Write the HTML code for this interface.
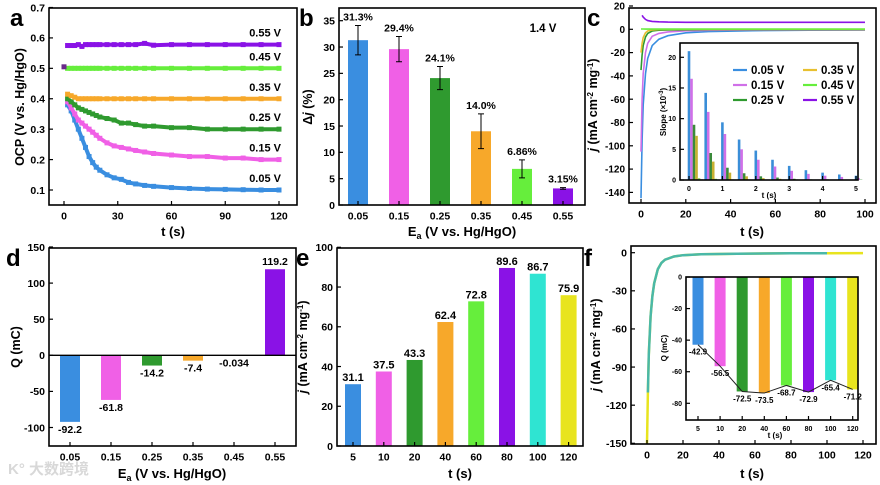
<!DOCTYPE html>
<html><head><meta charset="utf-8"><style>
body{margin:0;background:#fff;}
svg{display:block;font-family:"Liberation Sans","Noto Sans CJK SC",sans-serif;font-weight:bold;}
</style></head><body>
<svg id="fig" width="880" height="485" viewBox="0 0 880 485" xmlns="http://www.w3.org/2000/svg"></svg>
<script>
// ---------- DATA ----------
const aTimes=[2,4,6,8,10,12,14,16,18,20,24,28,32,36,40,45,50,60,70,80,90,100,110,120];
const aSeries005=[.38,.36,.33,.30,.27,.24,.21,.19,.175,.165,.15,.14,.135,.125,.12,.115,.112,.108,.105,.103,.102,.101,.10,.10];
const aSeries015=[.39,.37,.35,.33,.32,.31,.30,.29,.28,.27,.255,.245,.24,.235,.23,.225,.22,.215,.21,.21,.205,.205,.20,.20];
const aSeries025=[.40,.39,.38,.37,.365,.36,.355,.35,.345,.34,.335,.33,.32,.32,.315,.31,.31,.305,.305,.30,.30,.30,.30,.30];
const aSeries035=[.415,.41,.405,.40,.40,.40,.40,.40,.40,.40,.40,.40,.40,.40,.40,.40,.40,.40,.40,.40,.40,.40,.40,.40];
const aSeries045=[.50,.50,.50,.50,.50,.50,.50,.50,.50,.50,.50,.50,.50,.50,.50,.50,.50,.50,.50,.50,.50,.50,.50,.50];
const aSeries055=[.575,.575,.575,.578,.572,.578,.578,.578,.578,.578,.578,.578,.578,.578,.578,.582,.576,.578,.578,.578,.578,.578,.578,.578];
const aLabels=["0.05 V","0.15 V","0.25 V","0.35 V","0.45 V","0.55 V"];

const bCats=["0.05","0.15","0.25","0.35","0.45","0.55"];
const bValues=[31.3,29.6,24.1,14.0,6.86,3.15];
const bErrors=[2.8,2.4,2.2,3.3,1.7,0.15];
const bLabels=["31.3%","29.4%","24.1%","14.0%","6.86%","3.15%"];

const cTimes=[0,0.5,1,2,3,5,8,12,20,30,50,75,100];
const c005=[-145,-95,-65,-38,-25,-14,-8.5,-5.5,-3,-2,-1.2,-0.8,-0.6];
const c015=[-105,-60,-38,-20,-12,-6,-3.5,-2.2,-1.3,-0.9,-0.6,-0.5,-0.5];
const c025=[-35,-22,-14,-6.5,-3.5,-1.5,-0.8,-0.5,-0.4,-0.3,-0.3,-0.3,-0.3];
const c035=[-20,-12,-7,-3,-1.5,-0.5,-0.2,0,0,0,0,0,0];
const c045=[0.3,0.3,0.3,0.2,0.2,0.2,0.2,0.2,0.2,0.2,0.2,0.2,0.2];
const c055=[14,12,10.5,8.5,7.5,6.8,6.4,6.2,6,6,6,6,6];
const cInsetT=[0,0.5,1,1.5,2,2.5,3,3.5,4,4.5,5];
const cIns005=[21,14.2,9.4,6.6,4.8,3.3,2.3,1.6,1.2,0.9,0.7];
const cIns015=[16.5,11.1,7.5,5,3.3,2.2,1.5,1,0.7,0.5,0.3];
const cIns025=[9,4.4,2,1.1,0.6,0.4,0.2,0.1,0.1,0.05,0.05];
const cIns035=[7.2,3,1.2,0.6,0.3,0.2,0.1,0.05,0,0,0];
const cIns045=[0.3,0.2,0.1,0.1,0.05,0,0,0,0,0,0];
const cIns055=[0.1,0.05,0,0,0,0,0,0,0,0,0];

const dCats=["0.05","0.15","0.25","0.35","0.45","0.55"];
const dValues=[-92.2,-61.8,-14.2,-7.4,-0.034,119.2];
const dLabels=["-92.2","-61.8","-14.2","-7.4","-0.034","119.2"];

const eCats=["5","10","20","40","60","80","100","120"];
const eValues=[31.1,37.5,43.3,62.4,72.8,89.6,86.7,75.9];

const fTimes=[0,0.5,1,2,3,4,6,8,10,15,20,30,50,80,100,120];
const fValues=[-150,-110,-80,-50,-34,-24,-13,-8,-5.5,-3,-2,-1.2,-0.8,-0.5,-0.4,-0.3];
const fCats=["5","10","20","40","60","80","100","120"];
const fInsetValues=[-42.9,-56.5,-72.5,-73.5,-68.7,-72.9,-65.4,-71.2];

// ---------- HELPERS ----------
const NS="http://www.w3.org/2000/svg";
const svg=document.getElementById('fig');
function mk(tag,attrs,parent){const e=document.createElementNS(NS,tag);for(const k in attrs)e.setAttribute(k,attrs[k]);(parent||svg).appendChild(e);return e;}
function lin(d0,d1,r0,r1){return v=>r0+(v-d0)*(r1-r0)/(d1-d0);}
function txt(x,y,s,size,anchor,parent){const t=mk('text',{x:x,y:y,'font-size':size,'text-anchor':anchor||'middle',fill:'#000'},parent);t.textContent=s;return t;}
const COL=["#3a8ee0","#f060e6","#2f9a2f","#f7a82a","#66ee3c","#8a12e6","#2fe4d2","#e8e41e"];

function frame(x0,y0,x1,y1,name){
  const r=mk('rect',{x:x0,y:y0,width:x1-x0,height:y1-y0,fill:'none',stroke:'#000','stroke-width':1.6});
  
  
}
function yTicks(X0,sy,vals,labels,fs,name){
  const g=mk('g',{});
  
  
  vals.forEach((v,i)=>{mk('line',{x1:X0,x2:X0+4,y1:sy(v),y2:sy(v),stroke:'#000','stroke-width':1.2},g);
    txt(X0-4,sy(v)+fs*0.36,labels[i],fs,'end',g);});
}
function xTicks(Y1,sx,vals,labels,fs,name){
  const g=mk('g',{});
  
  
  vals.forEach((v,i)=>{mk('line',{x1:sx(v),x2:sx(v),y1:Y1,y2:Y1-4,stroke:'#000','stroke-width':1.2},g);
    txt(sx(v),Y1+fs+4,labels[i],fs,'middle',g);});
}
function letter(x,y,s){const t=txt(x,y,s,24,'start');
  
  }
function ytitle(x,y,s,name){const t=mk('text',{x:0,y:0,'font-size':12.5,'text-anchor':'middle',transform:`translate(${x},${y}) rotate(-90)`});t.innerHTML=s;
  
  }
function xtitle(x,y,s,name){const t=mk('text',{x:x,y:y,'font-size':13,'text-anchor':'middle'});t.innerHTML=s;
  
  }
function pathOf(xs,ys,sx,sy){return xs.map((t,i)=>(i?'L':'M')+sx(t).toFixed(1)+','+sy(ys[i]).toFixed(1)).join('');}

// ---------- PANEL A ----------
(function(){
  const sx=lin(0,120,64,279), sy=lin(0.1,0.7,190,7.5);
  letter(10,26,'a');
  const series=[aSeries005,aSeries015,aSeries025,aSeries035,aSeries045,aSeries055];
  const cols=[COL[0],COL[1],COL[2],COL[3],COL[4],COL[5]];
  series.forEach((s,k)=>{
    const g=mk('g',{});
    
    
    mk('path',{d:pathOf(aTimes,s,sx,sy),fill:'none',stroke:cols[k],'stroke-width':4},g);
    aTimes.forEach((t,i)=>mk('rect',{x:sx(t)-2.5,y:sy(s[i])-2.5,width:5,height:5,fill:cols[k]},g));
    const lbl=txt(281,sy(s[s.length-1])-8,aLabels[k],11,'end');
    
    
  });
  mk('rect',{x:sx(0)-2.5,y:sy(0.505)-2.5,width:5,height:5,fill:'#6a2a8a'});
  frame(49,8,297,205,'panel-a-plot-area');
  yTicks(49,sy,[0.1,0.2,0.3,0.4,0.5,0.6,0.7],["0.1","0.2","0.3","0.4","0.5","0.6","0.7"],10.5,'panel-a-y-ticks');
  xTicks(205,sx,[0,30,60,90,120],["0","30","60","90","120"],10.5,'panel-a-x-ticks');
  ytitle(24,107,'OCP (V vs. Hg/HgO)','panel-a-y-title');
  xtitle(173,236,'t (s)','panel-a-x-title');
})();

// ---------- PANEL B ----------
(function(){
  const sy=lin(0,35,205,20.7); const sx=i=>358+i*41;
  letter(299,26,'b');
  bValues.forEach((v,i)=>{
    const r=mk('rect',{x:sx(i)-10,y:sy(v),width:20,height:205-sy(v),fill:COL[i]});
    
    
    const e=bErrors[i];
    mk('path',{d:`M${sx(i)},${sy(v-e)}V${sy(v+e)}M${sx(i)-3},${sy(v-e)}h6M${sx(i)-3},${sy(v+e)}h6`,stroke:'#000','stroke-width':1,fill:'none'});
    const t=txt(sx(i),sy(v+e)-5,bLabels[i],10.5);
    
    
  });
  frame(339,8,585,205,'panel-b-plot-area');
  yTicks(339,sy,[0,5,10,15,20,25,30,35],["0","5","10","15","20","25","30","35"],10.5,'panel-b-y-ticks');
  xTicks(205,sx,[0,1,2,3,4,5],bCats,10.5,'panel-b-x-ticks');
  const n=txt(543,32,'1.4 V',11.5);
  
  
  ytitle(312,107,'Δ<tspan font-style="italic">j</tspan> (%)','panel-b-y-title');
  xtitle(462,236,'E<tspan font-size="9" dy="3">a</tspan><tspan dy="-3"> (V vs. Hg/HgO)</tspan>','panel-b-x-title');
})();

// ---------- PANEL C ----------
(function(){
  const sx=lin(0,100,641,865), sy=lin(0,20,29.3,6);
  letter(587,26,'c');
  const cs=[c005,c015,c025,c035,c045,c055];
  const cols=[COL[0],"#d070e8",COL[2],"#e8c030",COL[4],COL[5]];
  cs.forEach((s,k)=>{
    const ts=k==5?cTimes.slice(1):cTimes, vs=k==5?s.slice(1):s;
    const p=mk('path',{d:pathOf(ts,vs,sx,sy),fill:'none',stroke:cols[k],'stroke-width':1.6});
    
    
  });
  frame(629,8,876,203,'panel-c-plot-area');
  yTicks(629,sy,[20,0,-20,-40,-60,-80,-100,-120,-140],["20","0","-20","-40","-60","-80","-100","-120","-140"],10,'panel-c-y-ticks');
  xTicks(203,sx,[0,20,40,60,80,100],["0","20","40","60","80","100"],10.5,'panel-c-x-ticks');
  ytitle(597,105,'<tspan font-style="italic">j</tspan> (mA cm<tspan font-size="8" dy="-4">-2</tspan><tspan dy="4"> mg</tspan><tspan font-size="8" dy="-4">-1</tspan><tspan dy="4">)</tspan>','panel-c-y-title');
  xtitle(752,236,'t (s)','panel-c-x-title');
  // inset
  const ix=lin(0,5,689,856), iy=lin(0,20,180,57.3);
  mk('rect',{x:680,y:43,width:178,height:137,fill:'#fff'});
  const ins=[cIns005,cIns015,cIns025,cIns035,cIns045,cIns055];
  const icol=["#3a8ed8","#d070e8","#3a8a3a","#c8b030","#8ad860","#6a20b0"];
  ins.forEach((s,k)=>{
    const g=mk('g',{});
    
    
    cInsetT.forEach((t,i)=>{const x=ix(t+k*0.075);mk('rect',{x:x-1.3,y:iy(s[i]),width:2.6,height:180-iy(s[i]),fill:icol[k]},g);});
  });
  frame(680,43,858,180,'panel-c-inset');
  yTicks(680,iy,[0,5,10,15,20],["0","5","10","15","20"],7,'inset-c-y-ticks');
  xTicks(180,ix,[0,1,2,3,4,5],["0","1","2","3","4","5"],7,'inset-c-x-ticks');
  const it=mk('text',{x:0,y:0,'font-size':8,'text-anchor':'middle',transform:'translate(666,112) rotate(-90)'});
  it.innerHTML='Slope (×10<tspan font-size="6" dy="-3">-3</tspan><tspan dy="3">)</tspan>';
  
  
  const xt=txt(769,198,'t (s)',8);
  
  
  const lg=mk('g',{});
  
  
  aLabels.forEach((l,k)=>{
    const col=k<3?0:1, row=k%3; const x=733+col*70, y=70+row*15;
    mk('line',{x1:x,x2:x+14,y1:y,y2:y,stroke:cols[k],'stroke-width':2.2},lg);
    const t=txt(x+18,y+4,l,11.5,'start',lg);
    
    
  });
})();

// ---------- PANEL D ----------
(function(){
  const sy=lin(0,150,355.3,247); const sx=i=>70+i*41;
  letter(6,266,'d');
  dValues.forEach((v,i)=>{
    const y0=sy(Math.max(v,0)), h=Math.abs(sy(v)-sy(0));
    const r=mk('rect',{x:sx(i)-10,y:y0,width:20,height:h,fill:COL[i]});
    
    
    const t=txt(sx(i),v>=0?sy(v)-4:sy(v)+11,dLabels[i],10.5);
    
    
  });
  mk('line',{x1:49,x2:296,y1:sy(0),y2:sy(0),stroke:'#000','stroke-width':1.4});
  frame(49,248,296,446,'panel-d-plot-area');
  yTicks(49,sy,[150,100,50,0,-50,-100],["150","100","50","0","-50","-100"],10.5,'panel-d-y-ticks');
  xTicks(446,sx,[0,1,2,3,4,5],dCats,10.5,'panel-d-x-ticks');
  ytitle(20,347,'Q (mC)','panel-d-y-title');
  xtitle(172,478,'E<tspan font-size="9" dy="3">a</tspan><tspan dy="-3"> (V vs. Hg/HgO)</tspan>','panel-d-x-title');
  const w=mk('text',{x:8,y:474,'font-size':15,fill:'#d8d8d8','text-anchor':'start'});
  w.textContent='K° 大数跨境';
  
  
})();

// ---------- PANEL E ----------
(function(){
  const sy=lin(0,100,446,247.3); const sx=i=>353+i*30.8;
  letter(296,266,'e');
  eValues.forEach((v,i)=>{
    const r=mk('rect',{x:sx(i)-8,y:sy(v),width:16,height:446-sy(v),fill:COL[i]});
    
    
    const t=txt(sx(i),sy(v)-3,v.toFixed(1),11);
    
    
  });
  frame(337,248,583,446,'panel-e-plot-area');
  yTicks(337,sy,[0,20,40,60,80,100],["0","20","40","60","80","100"],10.5,'panel-e-y-ticks');
  xTicks(446,sx,[0,1,2,3,4,5,6,7],eCats,10.5,'panel-e-x-ticks');
  ytitle(307,347,'<tspan font-style="italic">j</tspan> (mA cm<tspan font-size="8" dy="-4">-2</tspan><tspan dy="4"> mg</tspan><tspan font-size="8" dy="-4">-1</tspan><tspan dy="4">)</tspan>','panel-e-y-title');
  xtitle(460,478,'t (s)','panel-e-x-title');
})();

// ---------- PANEL F ----------
(function(){
  const sx=lin(0,120,647,863), sy=lin(0,-150,252.7,443.3);
  letter(584,266,'f');
  const py=mk('path',{d:pathOf(fTimes,fValues,sx,sy),fill:'none',stroke:'#e8e41e','stroke-width':2.5});
  
  
  const n=fTimes.filter(t=>t<=100).length;
  const pt=mk('path',{d:pathOf(fTimes.slice(1,n),fValues.slice(1,n),sx,sy),fill:'none',stroke:'#4ab8a8','stroke-width':2.5});
  
  
  frame(631,246,876,444,'panel-f-plot-area');
  yTicks(631,sy,[0,-30,-60,-90,-120,-150],["0","-30","-60","-90","-120","-150"],10.5,'panel-f-y-ticks');
  xTicks(444,sx,[0,20,40,60,80,100,120],["0","20","40","60","80","100","120"],10.5,'panel-f-x-ticks');
  ytitle(600,345,'<tspan font-style="italic">j</tspan> (mA cm<tspan font-size="8" dy="-4">-2</tspan><tspan dy="4"> mg</tspan><tspan font-size="8" dy="-4">-1</tspan><tspan dy="4">)</tspan>','panel-f-y-title');
  xtitle(752,478,'t (s)','panel-f-x-title');
  // inset
  const iy=lin(0,-80,277,403.3), ix=i=>698+i*22.1;
  mk('rect',{x:686,y:277,width:172,height:143,fill:'#fff'});
  fInsetValues.forEach((v,i)=>{
    const r=mk('rect',{x:ix(i)-5.5,y:277,width:11,height:iy(v)-277,fill:COL[i]});
    
    
    const t=txt(ix(i),iy(v)+10,String(v),8);
    
    
  });
  const ln=mk('path',{d:fInsetValues.map((v,i)=>(i?'L':'M')+ix(i)+','+iy(v)).join(''),fill:'none',stroke:'#222','stroke-width':1});
  
  
  frame(686,277,858,420,'panel-f-inset');
  yTicks(686,iy,[0,-20,-40,-60,-80],["0","-20","-40","-60","-80"],7,'inset-f-y-ticks');
  xTicks(420,ix,[0,1,2,3,4,5,6,7],fCats,7,'inset-f-x-ticks');
  const it=mk('text',{x:0,y:0,'font-size':8,'text-anchor':'middle',transform:'translate(667,348) rotate(-90)'});
  it.textContent='Q (mC)';
  
  
  const xt=txt(775,438,'t (s)',8);
  
  
})();
</script>
</body></html>
